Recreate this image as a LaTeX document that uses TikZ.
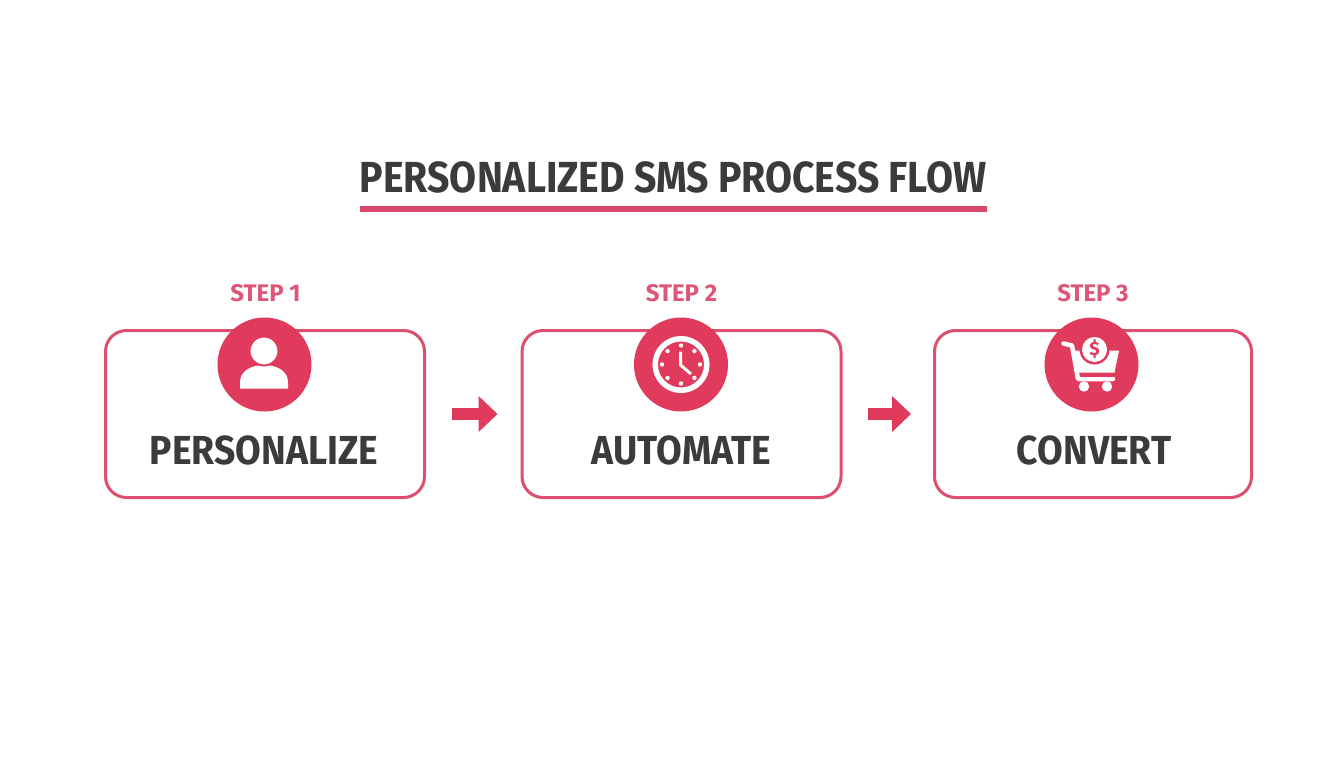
\documentclass[tikz,border=0pt]{standalone}
\usepackage{fontspec}
\usetikzlibrary{arrows.meta}
\newfontfamily\flowfont[FakeStretch=0.92]{Fira Sans}
\newfontfamily\titlefont[FakeStretch=0.9]{Fira Sans}
\newfontfamily\labelfont[FakeStretch=1.0]{Fira Sans}
\definecolor{flowred}{HTML}{E03A5C}
\definecolor{flowline}{HTML}{DC4F6E}
\definecolor{flowrule}{HTML}{D9476A}
\definecolor{flowlabel}{HTML}{DE5577}
\definecolor{flowtext}{HTML}{3A3B3D}
\tikzset{
  stepbox/.style={draw=flowline, line width=3pt, rounded corners=21pt, minimum width=319pt, minimum height=167pt, inner sep=0pt},
  stepdisc/.style={circle, fill=flowred, minimum size=94pt, inner sep=0pt},
  steplabel/.style={text=flowlabel, font=\labelfont\bfseries\fontsize{24}{24}\selectfont, inner sep=0pt},
  stepname/.style={text=flowtext, font=\flowfont\bfseries\fontsize{40.5}{40.5}\selectfont, inner sep=0pt},
  flowarrow/.style={draw=flowred, line width=12.5pt, -{Triangle[length=19pt,width=35pt]}},
}
\begin{document}
\begin{tikzpicture}[x=1pt, y=-1pt]
  \useasboundingbox (0, 0) rectangle (1344, 768);
  \fill [white] (0, 0) rectangle (1344, 768);
  % title
  \node [text=flowtext, font=\titlefont\bfseries\fontsize{43.5}{43.5}\selectfont, inner sep=0pt] (title) at (673, 177) {PERSONALIZED SMS PROCESS FLOW};
  \fill [flowrule] (360, 206) rectangle (987, 211.5);
  % boxes
  \node [stepbox] (personalize) at (265, 414) {};
  \node [stepbox] (automate) at (681.5, 414) {};
  \node [stepbox, minimum width=317pt] (convert) at (1093, 414) {};
  \node [stepname] (personalizename) at (264, 450) {PERSONALIZE};
  \node [stepname] (automatename) at (681.5, 450) {AUTOMATE};
  \node [stepname] (convertname) at (1094, 450) {CONVERT};
  \node [steplabel] (stepone) at (265.5, 293) {STEP 1};
  \node [steplabel] (steptwo) at (681.5, 293) {STEP 2};
  \node [steplabel] (stepthree) at (1093, 293) {STEP 3};
  \node [stepdisc] (personalizedisc) at (264.5, 364.5) {};
  \node [stepdisc] (automatedisc) at (681, 364.5) {};
  \node [stepdisc] (convertdisc) at (1091.5, 364.5) {};
  % arrows
  \draw [flowarrow, shorten <=26pt, shorten >=23pt] (personalize) -- (automate);
  \draw [flowarrow, shorten <=25pt, shorten >=22pt] (automate) -- (convert);
  % person
  \fill [white] (240, 388.5) -- (240, 382) .. controls (240, 372) and (250, 365) .. (264, 365) .. controls (278, 365) and (288, 372) .. (288, 382) -- (288, 388.5) -- cycle;
  \fill [white, draw=flowred, line width=2pt] (264, 351) circle (14.5);
  % clock
  \draw [white, line width=5.5pt] (681, 364.5) circle (25.8);
  \foreach \a in {0, 45, ..., 315}
    \fill [white] (681, 364.5) ++(\a:19) circle (2.2);
  \draw [white, line width=3pt, line join=round] (680.5, 351.5) -- (680.5, 365) -- (691, 374);
  % cart
  \draw [white, line width=4.5pt, line join=round, line cap=round] (1063.5, 343.5) -- (1072, 345.5) -- (1078, 379) -- (1113, 379);
  \fill [white] (1072, 350.5) -- (1119, 350.5) -- (1114.5, 372.5) -- (1076, 372.5) -- cycle;
  \fill [flowred] (1081, 372.5) rectangle (1113, 376.5);
  \fill [white] (1084, 386.5) circle (5.2);
  \fill [white] (1107, 386.5) circle (5.2);
  \fill [flowred] (1094.5, 349.5) circle (15);
  \fill [white] (1094.5, 349.5) circle (12.5);
  \node [text=flowred, font=\labelfont\bfseries\fontsize{19}{19}\selectfont, inner sep=0pt] (coin) at (1094.5, 349.5) {\$};
\end{tikzpicture}
\end{document}
